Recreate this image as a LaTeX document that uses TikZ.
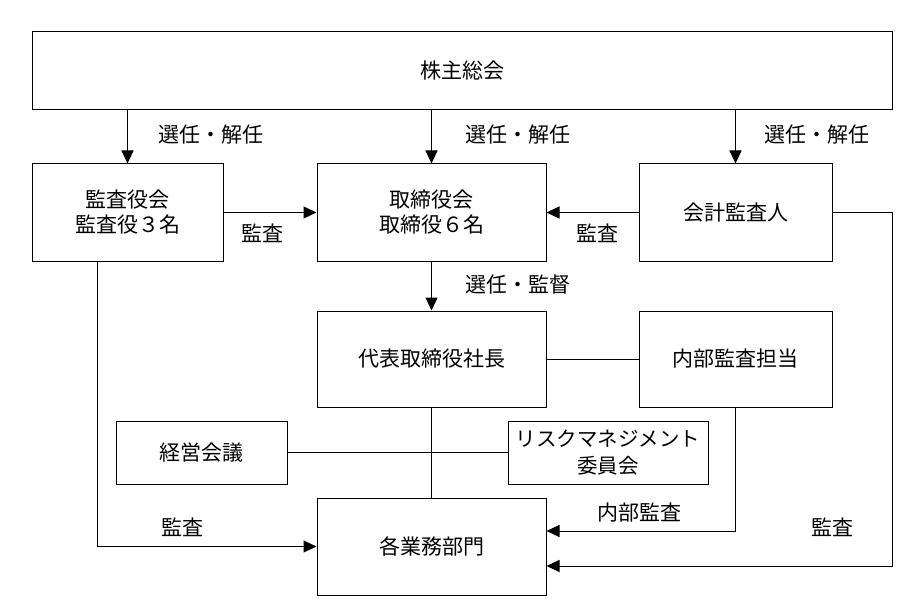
\documentclass[tikz,border=0pt]{standalone}
\usepackage{fontspec}
\setmainfont{Noto Sans CJK JP}
\usetikzlibrary{arrows.meta}
\begin{document}
\begin{tikzpicture}[x=1pt,y=-1pt,
  box/.style={draw=black,line width=1pt,inner sep=1pt,align=center,font=\fontsize{21}{25}\selectfont},
  lbl/.style={inner sep=0pt,font=\fontsize{21}{24}\selectfont},
  arr/.style={line width=1pt,-{Triangle[length=13pt,width=12pt]}},
  ln/.style={line width=1pt}]
\useasboundingbox (0,0) rectangle (920,612);
\node[box,minimum width=860pt,minimum height=78pt] (sh) at (462,71) {株主総会};
\node[box,minimum width=191pt,minimum height=97pt] (kan) at (127.5,212.5) {監査役会\\監査役３名};
\node[box,minimum width=229pt,minimum height=97pt] (tor) at (431.5,212.5) {取締役会\\取締役６名};
\node[box,minimum width=193pt,minimum height=97pt] (kai) at (735.5,212.5) {会計監査人};
\node[box,minimum width=229pt,minimum height=96pt] (dai) at (431.5,359) {代表取締役社長};
\node[box,minimum width=193pt,minimum height=96pt] (nai) at (735.5,359) {内部監査担当};
\node[box,minimum width=171pt,minimum height=63pt] (kei) at (201.5,452.5) {経営会議};
\node[box,minimum width=200pt,minimum height=63pt,font=\fontsize{20.5}{27}\selectfont] (risk) at (608,452.5) {リスクマネジメント\\委員会};
\node[box,minimum width=229pt,minimum height=97pt] (kak) at (431.5,546.5) {各業務部門};
\coordinate (r) at (892,0);
% arrows from shareholders
\draw[arr] (kan.north |- sh.south) -- (kan.north);
\draw[arr] (tor.north |- sh.south) -- (tor.north);
\draw[arr] (kai.north |- sh.south) -- (kai.north);
\draw[arr] (kan.east) -- (tor.west);
\draw[arr] (kai.west) -- (tor.east);
\draw[arr] (tor.south) -- (dai.north);
\draw[ln] (dai.east) -- (nai.west);
\draw[ln] (kei.east) -- (risk.west);
\draw[ln] (dai.south) -- (kak.north);
\draw[arr] ([xshift=-30.5pt]kan.south) |- (kak.west);
\draw[arr] (nai.south) |- ([yshift=15.5pt]kak.east);
\draw[arr] (kai.east) -- (kai.east -| r) |- ([yshift=-19.5pt]kak.east);
% labels
\node[lbl] (l1) at (210.5,135) {選任・解任};
\node[lbl] (l2) at (517.5,135) {選任・解任};
\node[lbl] (l3) at (816.5,135) {選任・解任};
\node[lbl] (l4) at (262.5,233) {監査};
\node[lbl] (l5) at (597.5,233) {監査};
\node[lbl] (l6) at (517.5,285) {選任・監督};
\node[lbl] (l7) at (182.5,527) {監査};
\node[lbl] (l8) at (639,513) {内部監査};
\node[lbl] (l9) at (832.5,527) {監査};
\end{tikzpicture}
\end{document}
